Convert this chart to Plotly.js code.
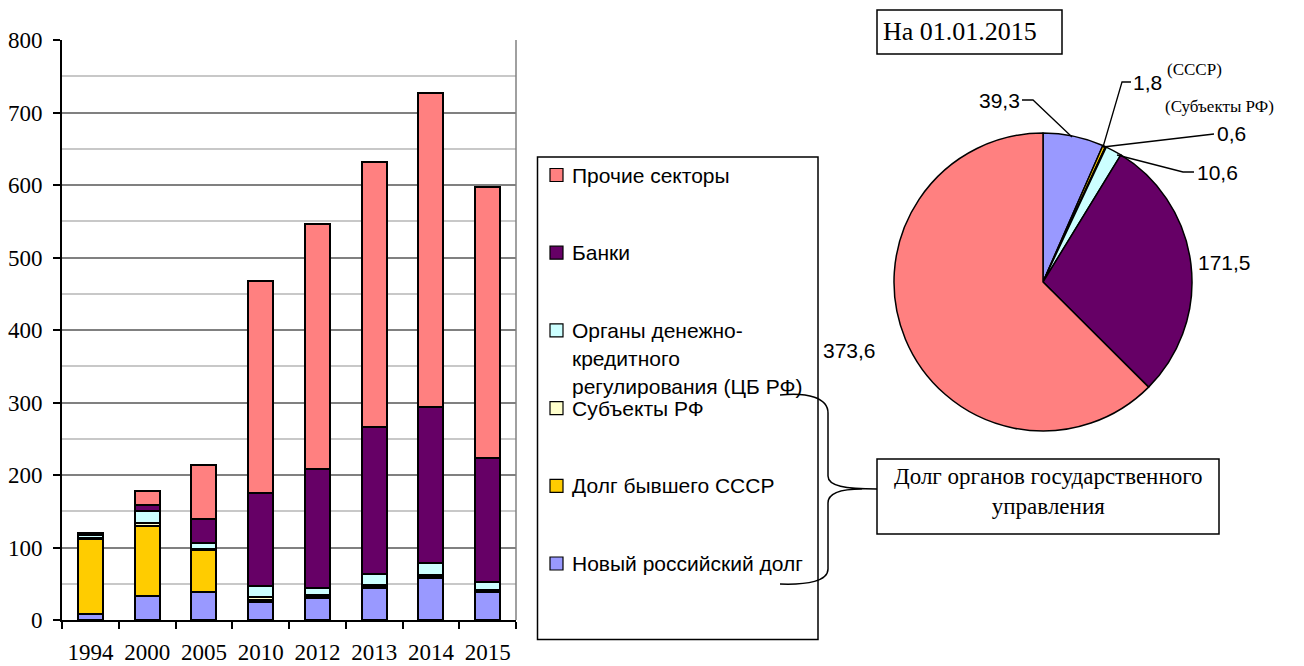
<!DOCTYPE html>
<html>
<head>
<meta charset="utf-8">
<script src="https://cdn.plot.ly/plotly-3.0.1.min.js"></script>
<style>
  html, body { margin: 0; padding: 0; background: #fff; }
  #chart { width: 1304px; height: 666px; }
</style>
</head>
<body>
<div id="chart"></div>
<script>
// Внешний долг по секторам, млрд долл. США
const years = ['1994', '2000', '2005', '2010', '2012', '2013', '2014', '2015'];

const newRussianDebt = [8.3, 33.5, 39.0, 25.3, 30.0, 44.0, 58.0, 39.3];
const formerUssrDebt = [103.4, 96.5, 58.0, 2.5, 1.5, 1.5, 2.0, 1.8];
const regionsDebt    = [0.8, 3.3, 1.5, 3.5, 3.5, 2.5, 2.0, 0.6];
const centralBank    = [4.8, 17.0, 7.3, 15.0, 9.0, 16.0, 16.0, 10.6];
const banksDebt      = [1.8, 8.3, 33.5, 128.7, 163.8, 202.5, 216.0, 171.5];
const otherSectors   = [1.3, 19.8, 74.5, 292.5, 337.9, 365.0, 433.5, 373.6];

const seriesNames = [
  'Новый российский долг',
  'Долг бывшего СССР',
  'Субъекты РФ',
  'Органы денежно-<br>кредитного<br>регулирования (ЦБ РФ)',
  'Банки',
  'Прочие секторы'
];
const seriesColors = ['#9999FF', '#FFCC00', '#FFFFCC', '#CCFFFF', '#660066', '#FF8080'];
const seriesValues = [newRussianDebt, formerUssrDebt, regionsDebt, centralBank, banksDebt, otherSectors];

const pieDate = 'На 01.01.2015';
const govBraceText = 'Долг органов государственного<br>управления';

// page geometry helpers (pixels -> paper fractions)
const W = 1304, H = 666;
const px = x => x / W;
const py = y => 1 - y / H;

const SERIF = '"Liberation Serif", "Times New Roman", serif';
const SANS = '"Liberation Sans", Arial, sans-serif';

// stacked bars
const traces = seriesValues.map((vals, i) => ({
  type: 'bar',
  x: years,
  y: vals,
  name: seriesNames[i].replace(/<br>/g, ' '),
  marker: { color: seriesColors[i], line: { color: '#000', width: 2 } },
  xaxis: 'x', yaxis: 'y',
  hovertemplate: '%{x}: %{y:.1f}<extra>' + seriesNames[i].replace(/<br>/g, ' ') + '</extra>'
}));

// pie for the latest date: last value of every series
const pieValues = seriesValues.map(v => v[v.length - 1]);
traces.push({
  type: 'pie',
  values: pieValues,
  labels: seriesNames.map(n => n.replace(/<br>/g, ' ')),
  marker: { colors: seriesColors, line: { color: '#000', width: 1.5 } },
  direction: 'clockwise',
  rotation: 0,
  sort: false,
  textinfo: 'none',
  showlegend: false,
  domain: { x: [px(894), px(1192)], y: [py(431), py(133)] }
});

const fmt = v => v.toFixed(1).replace('.', ',');

const shapes = [];
const annotations = [];

// right border of bar plot area
shapes.push({ type: 'line', xref: 'paper', yref: 'paper',
  x0: px(516), x1: px(516), y0: py(620), y1: py(40),
  line: { color: '#808080', width: 1.5 } });

// legend box
shapes.push({ type: 'rect', xref: 'paper', yref: 'paper',
  x0: px(537.5), x1: px(818), y0: py(639.5), y1: py(157),
  line: { color: '#000', width: 1.5 }, fillcolor: 'rgba(0,0,0,0)' });

// legend entries, top to bottom
const legendOrder = [5, 4, 3, 2, 1, 0];
legendOrder.forEach((si, k) => {
  const cy = 175 + k * 77.7;
  shapes.push({ type: 'rect', xref: 'paper', yref: 'paper',
    x0: px(550), x1: px(563), y0: py(cy + 6.5), y1: py(cy - 6.5),
    fillcolor: seriesColors[si], line: { color: '#000', width: 1.2 } });
  seriesNames[si].split('<br>').forEach((line, j) => {
    annotations.push({ xref: 'paper', yref: 'paper', x: px(570), y: py(cy + j * 28.3),
      xanchor: 'left', yanchor: 'middle', showarrow: false, text: line,
      font: { family: SANS, size: 21, color: '#000' } });
  });
});

// date box over the pie
shapes.push({ type: 'rect', xref: 'paper', yref: 'paper',
  x0: px(877), x1: px(1062), y0: py(54), y1: py(10),
  line: { color: '#000', width: 1.5 }, fillcolor: 'rgba(0,0,0,0)' });
annotations.push({ xref: 'paper', yref: 'paper', x: px(881), y: py(31),
  xanchor: 'left', yanchor: 'middle', showarrow: false, text: pieDate,
  font: { family: SERIF, size: 26, color: '#000' } });

// government debt box with brace
shapes.push({ type: 'rect', xref: 'paper', yref: 'paper',
  x0: px(877), x1: px(1219), y0: py(534), y1: py(459),
  line: { color: '#000', width: 1.5 }, fillcolor: '#fff' });
annotations.push({ xref: 'paper', yref: 'paper', x: px(1048), y: py(491),
  xanchor: 'center', yanchor: 'middle', showarrow: false, text: govBraceText,
  font: { family: SERIF, size: 23, color: '#000' } });

const P = (x, y) => px(x).toFixed(5) + ',' + py(y).toFixed(5);
const bracePath =
  'M' + P(780, 395) + ' C' + P(808, 392) + ' ' + P(828, 398) + ' ' + P(828, 413) +
  ' L' + P(828, 476) + ' C' + P(828, 486) + ' ' + P(845, 489) + ' ' + P(877, 489) +
  ' M' + P(862, 489) + ' C' + P(845, 489) + ' ' + P(828, 492) + ' ' + P(828, 503) +
  ' L' + P(828, 569) + ' C' + P(828, 581) + ' ' + P(808, 585) + ' ' + P(780, 584);
shapes.push({ type: 'path', xref: 'paper', yref: 'paper', path: bracePath,
  line: { color: '#000', width: 1.5 } });

// pie leader lines
const leader = pts => ({ type: 'path', xref: 'paper', yref: 'paper',
  path: pts.map((p, i) => (i ? 'L' : 'M') + P(p[0], p[1])).join(' '),
  line: { color: '#000', width: 1.3 } });
shapes.push(leader([[1022, 100], [1033, 100], [1072, 137]]));
shapes.push(leader([[1131, 82], [1122, 82], [1103, 147]]));
shapes.push(leader([[1214, 134], [1103, 147]]));
shapes.push(leader([[1194, 172], [1183, 172], [1117, 155]]));

// pie value labels
const pieLabel = (text, x, y, anchor) => annotations.push({
  xref: 'paper', yref: 'paper', x: px(x), y: py(y), xanchor: anchor, yanchor: 'middle',
  showarrow: false, text: text, font: { family: SANS, size: 21, color: '#000' } });
pieLabel(fmt(pieValues[0]), 1022, 101, 'right');
pieLabel(fmt(pieValues[1]), 1131, 82, 'left');
pieLabel(fmt(pieValues[2]), 1215, 133, 'left');
pieLabel(fmt(pieValues[3]), 1195, 173, 'left');
pieLabel(fmt(pieValues[4]), 1196, 262, 'left');
pieLabel(fmt(pieValues[5]), 878, 350, 'right');

const noteLabel = (text, x, y) => annotations.push({
  xref: 'paper', yref: 'paper', x: px(x), y: py(y), xanchor: 'left', yanchor: 'middle',
  showarrow: false, text: text, font: { family: SERIF, size: 17, color: '#000' } });
noteLabel('(СССР)', 1165, 70);
noteLabel('(Субъекты РФ)', 1163, 107);

const layout = {
  width: W, height: H,
  margin: { l: 0, r: 0, t: 0, b: 0, pad: 0 },
  paper_bgcolor: '#fff', plot_bgcolor: '#fff',
  showlegend: false,
  barmode: 'stack',
  bargap: 0.56,
  xaxis: {
    type: 'category',
    domain: [px(62), px(516)],
    anchor: 'y',
    tickson: 'boundaries',
    tickangle: 0,
    ticks: 'outside', ticklen: 7, tickwidth: 1.5, tickcolor: '#000',
    showline: true, linecolor: '#000', linewidth: 2,
    showgrid: false, zeroline: false,
    ticklabelstandoff: 10,
    tickfont: { family: SERIF, size: 23, color: '#000' }
  },
  yaxis: {
    domain: [py(620), py(40)],
    anchor: 'x',
    range: [0, 800], dtick: 100, tick0: 0,
    ticks: 'outside', ticklen: 7, tickwidth: 1.5, tickcolor: '#000',
    showline: true, linecolor: '#000', linewidth: 2,
    showgrid: true, gridcolor: '#808080', gridwidth: 1.5,
    minor: { dtick: 50, showgrid: true, gridcolor: '#c8c8c8', gridwidth: 1.5, ticks: '' },
    zeroline: false,
    ticklabelstandoff: 6,
    tickfont: { family: SERIF, size: 23, color: '#000' }
  },
  shapes: shapes,
  annotations: annotations
};

Plotly.newPlot('chart', traces, layout, { displayModeBar: false, responsive: false });
</script>
</body>
</html>
